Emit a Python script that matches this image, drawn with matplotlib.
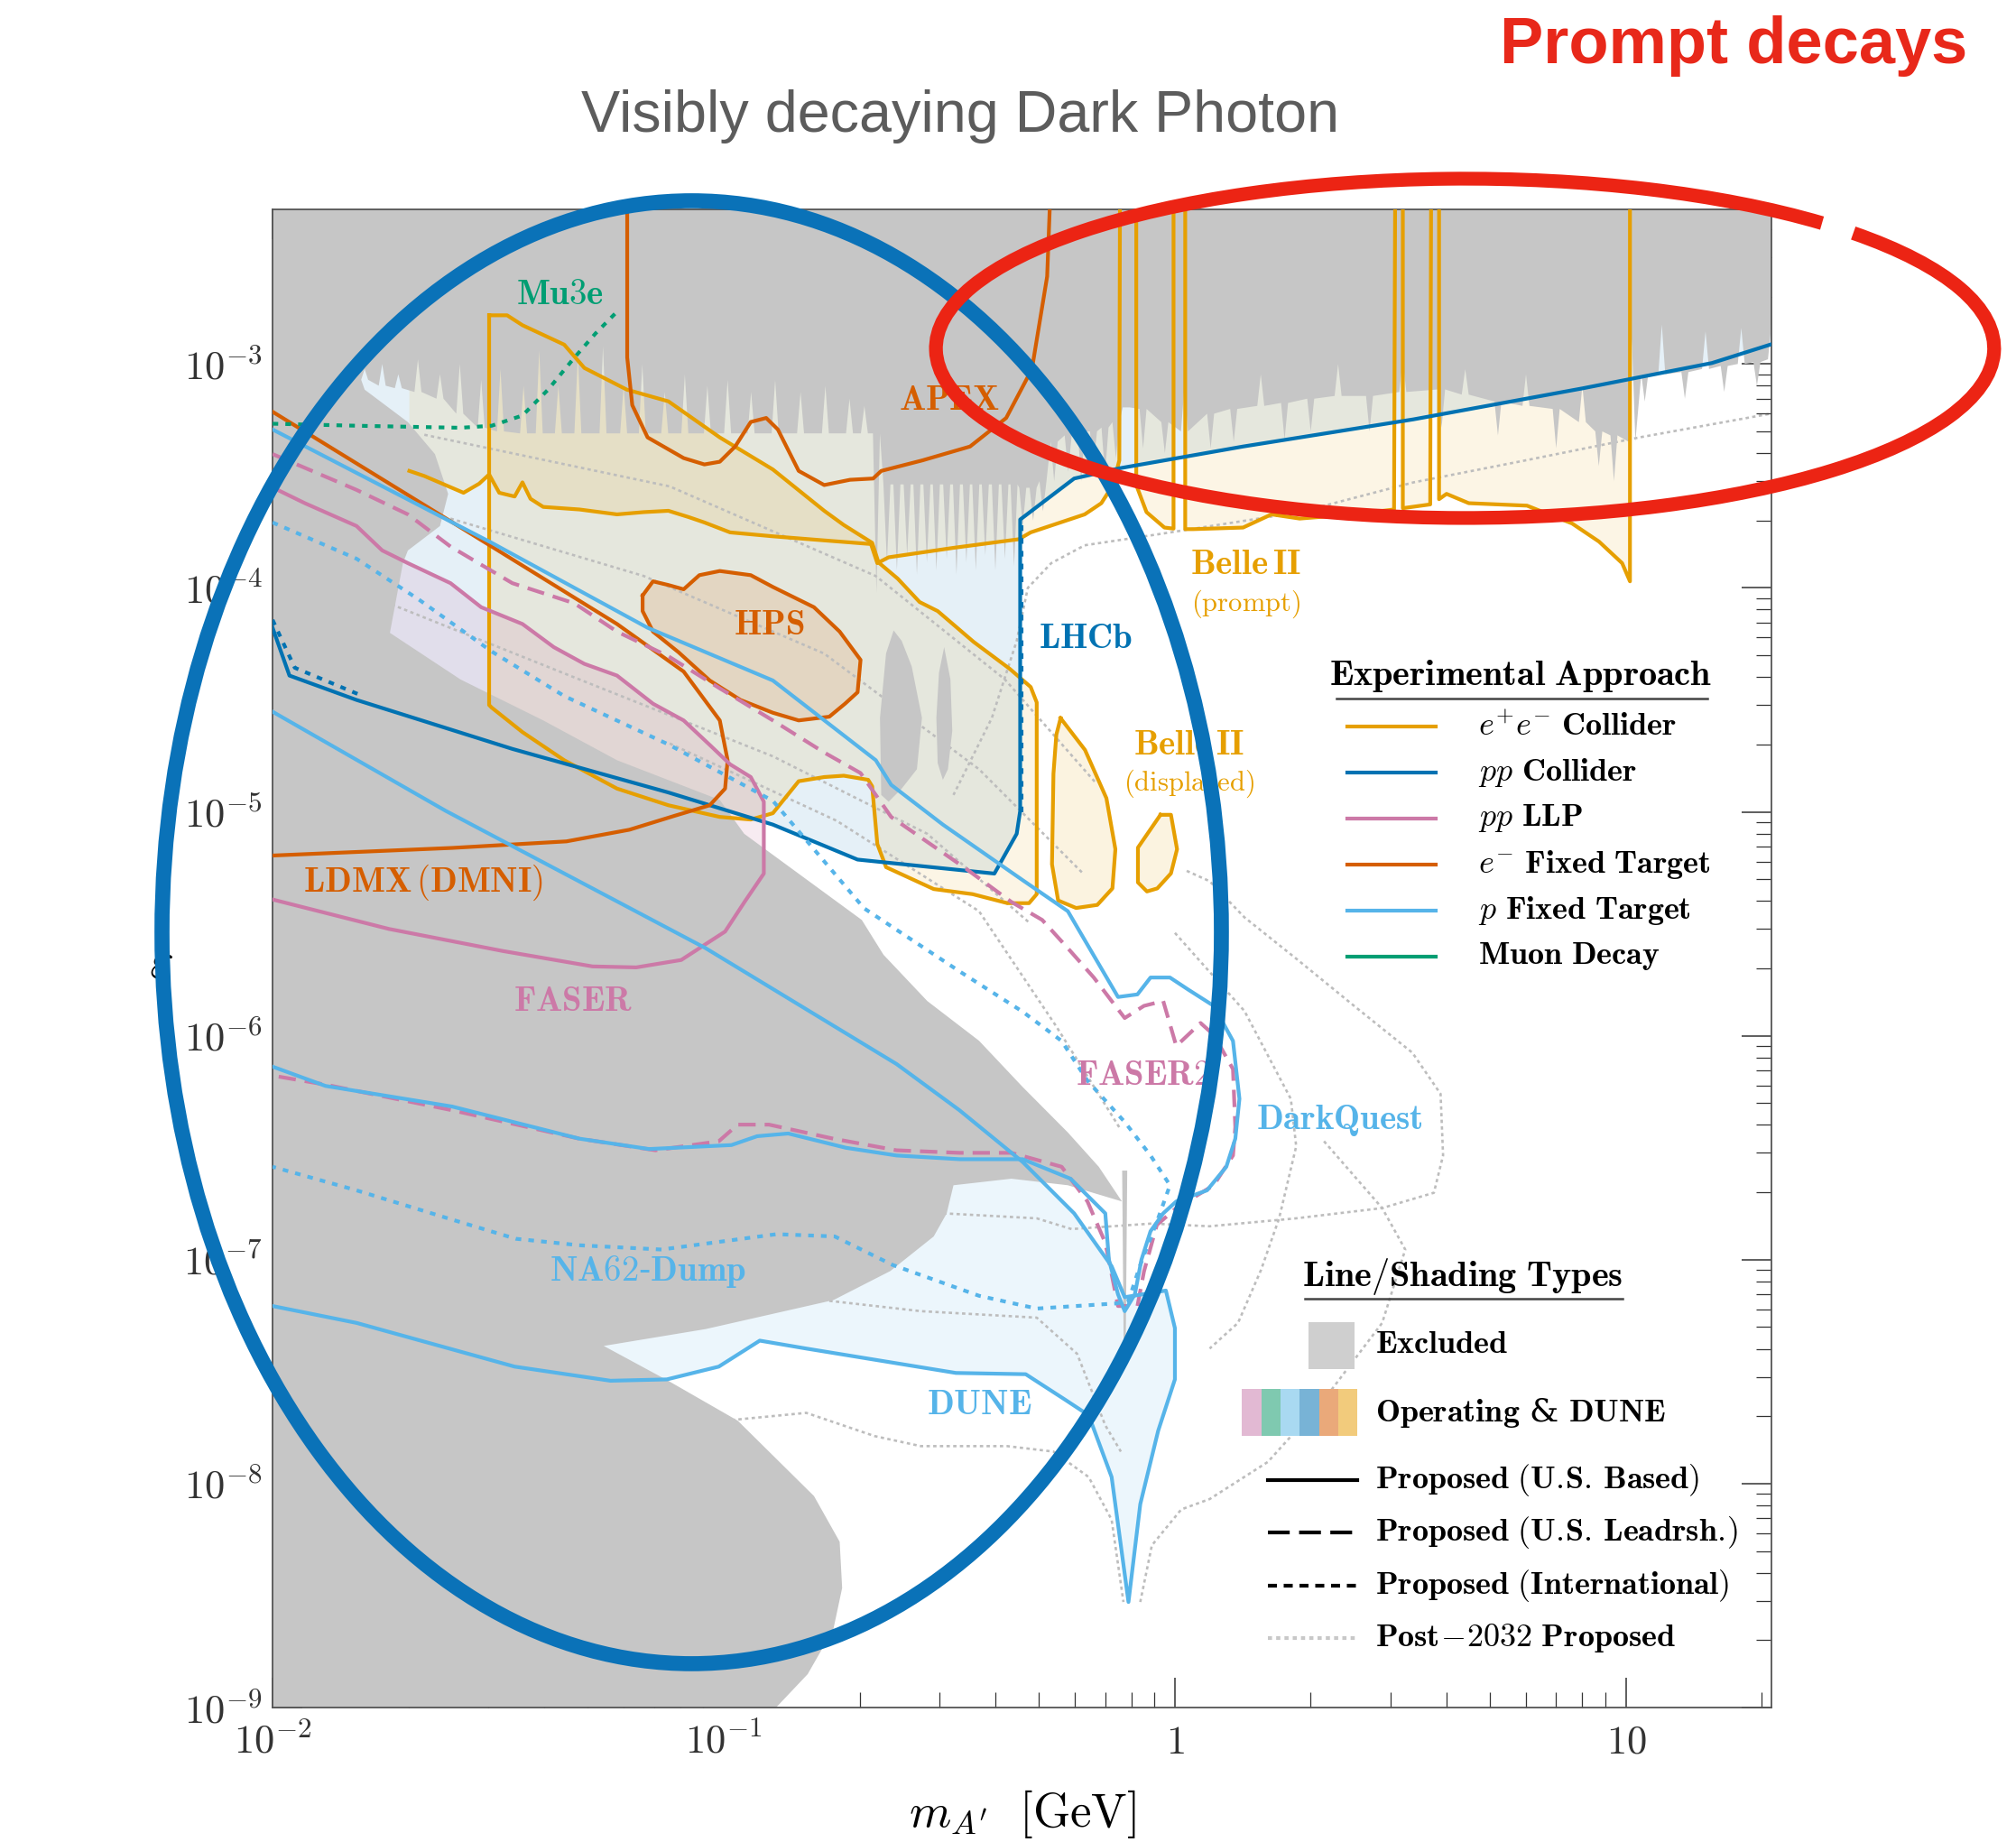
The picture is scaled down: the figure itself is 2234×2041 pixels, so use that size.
import numpy as np
import matplotlib
matplotlib.use('Agg')
from matplotlib import pyplot as plt
from matplotlib.patches import Ellipse, Arc, Rectangle
from matplotlib.ticker import LogLocator, NullFormatter

plt.rcParams['mathtext.fontset'] = 'cm'
plt.rcParams['font.family'] = 'serif'
plt.rcParams['font.serif'] = ['DejaVu Serif']

# colours of the experimental approaches
C_EE = '#E69F00'     # e+e- collider
C_PP = '#0072B2'     # pp collider
C_LLP = '#CC79A7'    # pp LLP
C_EFT = '#D55E00'    # e- fixed target
C_PFT = '#56B4E9'    # p fixed target
C_MU = '#009E73'     # muon decay
C_GRAY = '#c6c6c6'
C_POST = '#bdbdbd'

# ---------------- excluded (gray) region ----------------
# lower edge of the prompt-search band: spike centre, spike tip, local base
gray_spk_m = [0.0160, 0.0175, 0.0190, 0.0210, 0.0235, 0.0260, 0.0290, 0.0320,
              0.0360, 0.0390, 0.0430, 0.0475, 0.0540, 0.0600, 0.0660, 0.0740,
              0.0820, 0.0920, 0.1020, 0.1150, 0.1300, 0.1480, 0.1680, 0.1900, 0.2050,
              0.218, 0.230, 0.242, 0.255, 0.268, 0.282, 0.296, 0.312, 0.328, 0.345,
              0.362, 0.380, 0.400, 0.420, 0.440,
              0.46, 0.485, 0.51, 0.54, 0.58, 0.62, 0.66, 0.70, 0.74, 0.78,
              0.85, 0.95, 1.05, 1.20, 1.35, 1.55, 1.75, 2.00, 2.30, 2.70, 3.20,
              3.90, 4.40, 5.20, 6.00, 7.00, 8.00, 8.70, 9.40,
              10.3, 11.0, 12.0, 13.5, 15.0, 16.5, 18.0, 19.5, 21.0]
gray_spk_tip = [9.5e-4, 1.0e-3, 9.0e-4, 1.05e-3, 9.0e-4, 1.0e-3, 8.5e-4, 9.5e-4,
                8.0e-4, 1.15e-3, 8.0e-4, 1.1e-3, 1.2e-3, 8.0e-4, 1.0e-3, 7.5e-4,
                9.0e-4, 8.0e-4, 8.5e-4, 7.5e-4, 8.5e-4, 7.5e-4, 8.0e-4, 7.0e-4, 6.5e-4,
                9.5e-5, 1.3e-4, 1.2e-4, 1.4e-4, 1.15e-4, 1.3e-4, 1.2e-4, 1.35e-4, 1.15e-4, 1.3e-4,
                1.2e-4, 1.4e-4, 1.2e-4, 1.35e-4, 1.25e-4,
                1.9e-4, 2.0e-4, 2.2e-4, 3.0e-4, 3.3e-4, 3.0e-4, 3.5e-4, 3.2e-4, 3.8e-4, 6.4e-4,
                4.2e-4, 4.0e-4, 8.0e-4, 4.2e-4, 4.5e-4, 9.0e-4, 4.6e-4, 5.0e-4, 1.0e-3, 5.0e-4, 1.05e-3,
                5.2e-4, 9.5e-4, 4.8e-4, 9.0e-4, 4.2e-4, 8.0e-4, 3.5e-4, 3.0e-4,
                1.3e-3, 6.8e-4, 1.5e-3, 7.0e-4, 1.4e-3, 7.5e-4, 1.45e-3, 8.0e-4, 1.5e-3]
gray_spk_base = [8.5e-4, 8.0e-4, 7.8e-4, 7.5e-4, 7.0e-4, 6.0e-4, 5.2e-4, 5.0e-4,
                 4.9e-4, 4.9e-4, 4.9e-4, 4.9e-4, 4.9e-4, 4.9e-4, 4.9e-4, 4.9e-4,
                 4.9e-4, 4.9e-4, 4.9e-4, 4.9e-4, 4.9e-4, 4.9e-4, 4.9e-4, 4.9e-4, 4.9e-4,
                 4.9e-4, 2.9e-4, 2.9e-4, 2.9e-4, 2.9e-4, 2.9e-4, 2.9e-4, 2.9e-4, 2.9e-4, 2.9e-4,
                 2.9e-4, 2.9e-4, 2.9e-4, 2.9e-4, 2.9e-4,
                 2.8e-4, 2.8e-4, 3.0e-4, 4.5e-4, 4.8e-4, 5.0e-4, 5.0e-4, 5.2e-4, 5.5e-4, 6.4e-4,
                 6.3e-4, 5.5e-4, 5.0e-4, 6.0e-4, 6.3e-4, 6.5e-4, 6.7e-4, 7.0e-4, 7.2e-4, 7.2e-4, 7.5e-4,
                 7.7e-4, 7.3e-4, 6.8e-4, 6.5e-4, 6.3e-4, 5.5e-4, 5.0e-4, 4.8e-4,
                 4.5e-4, 9.0e-4, 9.0e-4, 9.2e-4, 9.5e-4, 9.8e-4, 1.0e-3, 1.02e-3, 1.05e-3]

# beam-dump boundary, from the top-left down to the bottom axis
dump_m = [0.0160, 0.01995, 0.0229, 0.0245, 0.0235, 0.01995, 0.01945, 0.0182, 0.0261,
          0.0398, 0.058, 0.098, 0.111, 0.2023, 0.226, 0.2825, 0.368, 0.46, 0.579,
          0.678, 0.763, 0.579, 0.434, 0.323, 0.312, 0.292, 0.234, 0.175, 0.0912,
          0.0542, 0.0753, 0.1074, 0.1585, 0.1807, 0.183, 0.175, 0.1535, 0.130, 0.125]
dump_e = [7.68e-4, 5.5e-4, 3.96e-4, 2.63e-4, 1.89e-4, 1.47e-4, 1.29e-4, 6.3e-5, 3.9e-5,
          2.56e-5, 1.7e-5, 1.13e-5, 7.98e-6, 3.29e-6, 2.3e-6, 1.43e-6, 9.5e-7, 5.9e-7, 3.7e-7,
          2.6e-7, 1.82e-7, 2.15e-7, 2.3e-7, 2.15e-7, 1.61e-7, 1.27e-7, 8.9e-8, 6.6e-8, 4.9e-8,
          4.12e-8, 2.88e-8, 1.91e-8, 8.8e-9, 5.5e-9, 3.42e-9, 2.24e-9, 1.41e-9, 9.9e-10, 5e-10]

blobA_m = [0.2234, 0.222, 0.229, 0.238, 0.248, 0.261, 0.275, 0.268, 0.248, 0.232]
blobA_e = [1.19e-5, 2.63e-5, 5.1e-5, 6.46e-5, 5.8e-5, 4.46e-5, 2.63e-5, 1.55e-5, 1.27e-5, 1.11e-5]
blobB_m = [0.308, 0.318, 0.321, 0.314, 0.306, 0.298, 0.296, 0.300]
blobB_e = [5.44e-5, 3.9e-5, 2.3e-5, 1.55e-5, 1.39e-5, 1.65e-5, 2.63e-5, 4.18e-5]
needle_m = [0.764, 0.784, 0.778, 0.770]
needle_e = [2.5e-7, 2.5e-7, 4.0e-8, 4.0e-8]

# ---------------- e+e- collider ----------------
b2p_m = [0.0201, 0.0217, 0.0265, 0.0287, 0.0302, 0.0318, 0.0344, 0.0358, 0.0373, 0.0398,
         0.0479, 0.058, 0.0665, 0.0754, 0.0837, 0.0906, 0.1033, 0.1285, 0.167, 0.212,
         0.219, 0.232, 0.323, 0.451, 0.479, 0.631, 0.687, 0.729, 0.753, 0.756,
         0.821, 0.821, 0.865, 0.948, 0.993, 0.993, 1.054, 1.054, 1.097, 1.416,
         1.637, 1.89, 2.48, 3.06, 3.08, 3.2, 3.2, 3.68, 3.70, 3.85,
         3.85, 4.0, 4.48, 6.03, 7.59, 8.71, 9.8, 10.2, 10.2]
b2p_e = [3.33e-4, 3.16e-4, 2.66e-4, 2.92e-4, 3.21e-4, 2.66e-4, 2.56e-4, 2.96e-4, 2.5e-4, 2.3e-4,
         2.24e-4, 2.13e-4, 2.18e-4, 2.21e-4, 2.07e-4, 1.96e-4, 1.77e-4, 1.7e-4, 1.63e-4, 1.57e-4,
         1.29e-4, 1.37e-4, 1.51e-4, 1.65e-4, 1.77e-4, 2.13e-4, 2.39e-4, 2.88e-4, 3.71e-4, 1e-2,
         1e-2, 2.88e-4, 2.18e-4, 1.86e-4, 1.84e-4, 1e-2, 1e-2, 1.83e-4, 1.83e-4, 1.86e-4,
         2.13e-4, 2.04e-4, 2.13e-4, 2.24e-4, 1e-2, 1e-2, 2.27e-4, 2.36e-4, 1e-2, 1e-2,
         2.49e-4, 2.63e-4, 2.39e-4, 2.33e-4, 1.94e-4, 1.61e-4, 1.29e-4, 1.07e-4, 1e-2]

box_m = [0.0302, 0.0331, 0.0358, 0.0443, 0.0491, 0.061, 0.0754, 0.098, 0.1285, 0.167,
         0.1845, 0.2133, 0.2203, 0.243, 0.2717, 0.298, 0.358, 0.4305, 0.479, 0.494,
         0.494, 0.475, 0.4254, 0.356, 0.292, 0.229, 0.219, 0.2133, 0.209, 0.1845,
         0.167, 0.1466, 0.1285, 0.1148, 0.098, 0.0754, 0.058, 0.0443, 0.0358, 0.0306,
         0.0302, 0.0302]
box_e = [1.65e-3, 1.65e-3, 1.49e-3, 1.22e-3, 9.6e-4, 7.68e-4, 6.81e-4, 4.7e-4, 3.38e-4, 2.21e-4,
         1.91e-4, 1.59e-4, 1.3e-4, 1.1e-4, 8.65e-5, 7.88e-5, 5.74e-5, 4.35e-5, 3.61e-5, 3.08e-5,
         4.29e-6, 3.91e-6, 3.91e-6, 4.29e-6, 4.52e-6, 5.66e-6, 7.18e-6, 1.3e-5, 1.39e-5, 1.45e-5,
         1.43e-5, 1.37e-5, 9.86e-6, 9.24e-6, 9.49e-6, 1.07e-5, 1.27e-5, 1.7e-5, 2.27e-5, 2.92e-5,
         3.0e-5, 1.65e-3]

b2d1_m = [0.558, 0.632, 0.705, 0.738, 0.727, 0.673, 0.604, 0.551, 0.534, 0.538, 0.546, 0.558]
b2d1_e = [2.62e-5, 1.89e-5, 1.15e-5, 6.81e-6, 4.55e-6, 3.84e-6, 3.72e-6, 4.02e-6, 5.83e-6, 1.48e-5, 2.21e-5, 2.62e-5]
b2d2_m = [0.929, 0.98, 1.011, 0.98, 0.914, 0.867, 0.828, 0.828, 0.929]
b2d2_e = [9.7e-6, 9.7e-6, 6.81e-6, 5.31e-6, 4.55e-6, 4.41e-6, 4.84e-6, 6.92e-6, 9.7e-6]

# ---------------- pp collider (LHCb) ----------------
lhcb_m = [0.01, 0.0109, 0.01535, 0.034, 0.0754, 0.1285, 0.198, 0.398, 0.446, 0.454,
          0.454, 0.598, 0.753, 1.416, 3.38, 8.0, 15.5, 21.4]
lhcb_e = [6.64e-5, 4.06e-5, 3.16e-5, 1.91e-5, 1.22e-5, 8.77e-6, 6.12e-6, 5.3e-6, 7.98e-6, 1.01e-5,
          2.02e-4, 3.08e-4, 3.42e-4, 4.28e-4, 5.66e-4, 7.78e-4, 1.01e-3, 1.24e-3]
lhcbd_m = [0.01, 0.0112, 0.0155]
lhcbd_e = [7.2e-5, 4.4e-5, 3.35e-5]
lhcbv_m = [0.457, 0.457]
lhcbv_e = [1.0e-5, 2.0e-4]

# ---------------- e- fixed target ----------------
apex_m = [0.0611, 0.0611, 0.0627, 0.0678, 0.0815, 0.0906, 0.098, 0.106, 0.1148, 0.1242, 0.1318,
          0.1466, 0.167, 0.1905, 0.2144, 0.2234, 0.2754, 0.3515, 0.4227, 0.482, 0.521, 0.535]
apex_e = [1e-2, 1.07e-3, 6.55e-4, 4.7e-4, 3.8e-4, 3.56e-4, 3.66e-4, 4.28e-4, 5.51e-4, 5.74e-4, 5.1e-4,
          3.33e-4, 2.88e-4, 3.04e-4, 3.08e-4, 3.33e-4, 3.71e-4, 4.28e-4, 5.74e-4, 9.48e-4, 2.46e-3, 1e-2]
hps_m = [0.0661, 0.0697, 0.0754, 0.0815, 0.0883, 0.098, 0.1148, 0.1285, 0.1585, 0.1807, 0.201,
         0.198, 0.1857, 0.1714, 0.1466, 0.1285, 0.1089, 0.0931, 0.0794, 0.0697, 0.0661, 0.0661]
hps_e = [9.25e-5, 1.07e-4, 1.03e-4, 9.86e-5, 1.14e-4, 1.19e-4, 1.14e-4, 1.01e-4, 8.2e-5, 6.38e-5, 4.77e-5,
         3.42e-5, 3.04e-5, 2.66e-5, 2.56e-5, 2.77e-5, 3.16e-5, 3.86e-5, 5.16e-5, 6.38e-5, 7.88e-5, 9.25e-5]
ldmx_m = [0.01, 0.0306, 0.058, 0.0815, 0.098, 0.102, 0.1007, 0.0931, 0.0778, 0.0618, 0.0448, 0.025, 0.01]
ldmx_e = [6.12e-4, 1.53e-4, 6.9e-5, 4.23e-5, 2.56e-5, 1.7e-5, 1.27e-5, 1.07e-5, 9.6e-6, 8.32e-6,
          7.38e-6, 6.9e-6, 6.38e-6]

# ---------------- pp LLP ----------------
faser_m = [0.01, 0.01179, 0.01535, 0.0175, 0.01995, 0.0248, 0.029, 0.0358, 0.042, 0.0491, 0.058,
           0.0697, 0.0815, 0.0931, 0.1033, 0.1148, 0.1227, 0.1227, 0.1112, 0.1007, 0.0805, 0.064,
           0.0512, 0.0324, 0.0181, 0.01]
faser_e = [2.81e-4, 2.39e-4, 1.89e-4, 1.47e-4, 1.29e-4, 1.05e-4, 8.2e-5, 6.9e-5, 5.44e-5, 4.58e-5, 4.06e-5,
           3.04e-5, 2.56e-5, 1.99e-5, 1.63e-5, 1.43e-5, 1.11e-5, 5.3e-6, 3.96e-6, 2.92e-6, 2.18e-6, 2.02e-6,
           2.04e-6, 2.39e-6, 3.0e-6, 4.06e-6]
f2_m = [0.01, 0.01535, 0.01995, 0.0248, 0.034, 0.0467, 0.058, 0.0754, 0.098, 0.1285, 0.167, 0.201,
        0.235, 0.344, 0.434, 0.508, 0.579, 0.661, 0.724, 0.774, 0.854, 0.942, 1.007, 1.14, 1.219,
        1.345, 1.361, 1.345, 1.219, 1.007, 0.912, 0.854, 0.826, 0.748, 0.701, 0.64, 0.561, 0.434,
        0.333, 0.2415, 0.175, 0.126, 0.1074, 0.0975, 0.0706, 0.0479, 0.025, 0.0131, 0.01]
f2_e = [3.96e-4, 2.74e-4, 2.13e-4, 1.53e-4, 1.05e-4, 8.53e-5, 6.38e-5, 4.95e-5, 3.56e-5, 2.56e-5,
        1.84e-5, 1.49e-5, 9.49e-6, 5.58e-6, 3.96e-6, 3.29e-6, 2.46e-6, 1.82e-6, 1.43e-6, 1.2e-6,
        1.36e-6, 1.43e-6, 9.0e-7, 1.14e-6, 1.01e-6, 7.1e-7, 3.91e-7, 2.92e-7, 2.15e-7, 1.7e-7,
        1.43e-7, 8.87e-8, 6.21e-8, 6.21e-8, 1.19e-7, 1.82e-7, 2.6e-7, 3.0e-7, 3.0e-7, 3.08e-7,
        3.47e-7, 4.01e-7, 4.01e-7, 3.38e-7, 3.08e-7, 3.47e-7, 4.65e-7, 6.05e-7, 6.64e-7]

# ---------------- p fixed target ----------------
dq_m = [0.01, 0.0306, 0.0678, 0.1285, 0.2173, 0.235, 0.306, 0.46, 0.579, 0.748, 0.826, 0.883,
        0.975, 1.069, 1.219, 1.345, 1.39, 1.361, 1.3, 1.178, 1.007, 0.942, 0.883, 0.843, 0.815,
        0.774, 0.748, 0.714, 0.701, 0.587, 0.46, 0.333, 0.2415, 0.1866, 0.139, 0.1186, 0.104,
        0.0683, 0.0479, 0.025, 0.0131, 0.01]
dq_e = [5.1e-4, 1.59e-4, 6.64e-5, 3.86e-5, 1.7e-5, 1.32e-5, 8.77e-6, 4.95e-6, 3.6e-6, 1.49e-6,
        1.53e-6, 1.82e-6, 1.82e-6, 1.61e-6, 1.36e-6, 9.48e-7, 5.23e-7, 3.47e-7, 2.6e-7, 2.04e-7,
        1.82e-7, 1.61e-7, 1.34e-7, 1.0e-7, 7.0e-8, 5.89e-8, 7.0e-8, 1.0e-7, 1.61e-7, 2.3e-7,
        2.81e-7, 2.81e-7, 2.92e-7, 3.16e-7, 3.66e-7, 3.56e-7, 3.25e-7, 3.12e-7, 3.47e-7, 4.83e-7,
        5.97e-7, 7.28e-7]
dune_m = [0.01, 0.0242, 0.0912, 0.2415, 0.333, 0.46, 0.598, 0.724, 0.774, 0.955, 1.0, 1.0, 0.918,
          0.838, 0.789, 0.724, 0.644, 0.571, 0.467, 0.327, 0.1524, 0.1202, 0.0975, 0.0748, 0.0561,
          0.0344, 0.01535, 0.01]
dune_e = [2.8e-5, 1.01e-5, 2.46e-6, 7.48e-7, 4.65e-7, 2.73e-7, 1.61e-7, 9.35e-8, 6.8e-8, 7.28e-8,
          4.95e-8, 2.92e-8, 1.72e-8, 8.1e-9, 2.96e-9, 1.07e-8, 2.02e-8, 2.37e-8, 3.08e-8, 3.12e-8,
          4.01e-8, 4.35e-8, 3.33e-8, 2.92e-8, 2.88e-8, 3.33e-8, 5.22e-8, 6.21e-8]
na62_m = [0.01, 0.01535, 0.0211, 0.0306, 0.0443, 0.0754, 0.1285, 0.2046, 0.333, 0.46, 0.561, 0.64,
          0.774, 0.883, 0.975, 0.918, 0.838, 0.789, 0.743, 0.494, 0.368, 0.2366, 0.1762, 0.131,
          0.0728, 0.0478, 0.0346, 0.025, 0.01535, 0.01]
na62_e = [1.96e-4, 1.35e-4, 8.87e-5, 5.2e-5, 3.29e-5, 2.0e-5, 1.12e-5, 3.71e-6, 1.94e-6, 1.28e-6,
          9.48e-7, 6.3e-7, 4.12e-7, 2.92e-7, 2.15e-7, 1.53e-7, 9.48e-8, 6.55e-8, 6.38e-8, 6.05e-8,
          6.9e-8, 9.48e-8, 1.27e-7, 1.3e-7, 1.11e-7, 1.16e-7, 1.24e-7, 1.51e-7, 2.04e-7, 2.6e-7]

# ---------------- muon decay ----------------
mu3e_m = [0.01, 0.01535, 0.0261, 0.0306, 0.0358, 0.0408, 0.0467, 0.052, 0.0578]
mu3e_e = [5.41e-4, 5.3e-4, 5.19e-4, 5.3e-4, 5.89e-4, 7.68e-4, 1.07e-3, 1.37e-3, 1.7e-3]

# ---------------- post-2032 proposals (light gray dotted) ----------------
post1_m = [21.4, 10.7, 5.98, 3.38, 1.89, 0.925, 0.631, 0.532, 0.472, 0.446, 0.393, 0.323]
post1_e = [6.05e-4, 4.7e-4, 3.71e-4, 2.96e-4, 2.18e-4, 1.74e-4, 1.55e-4, 1.29e-4, 1.0e-4, 5.8e-5, 2.63e-5, 1.19e-5]
post2_m = [1.062, 1.194, 1.426, 1.857, 2.495, 3.36, 3.88, 3.93, 3.75, 2.88, 1.857, 1.194, 0.889, 0.59, 0.494, 0.308]
post2_e = [5.45e-6, 4.9e-6, 3.38e-6, 2.21e-6, 1.36e-6, 8.4e-7, 5.5e-7, 2.92e-7, 1.99e-7, 1.7e-7,
           1.53e-7, 1.41e-7, 1.45e-7, 1.37e-7, 1.53e-7, 1.61e-7]
post3_m = [1.0, 1.426, 1.807, 1.857, 1.702, 1.552, 1.38, 1.194]
post3_e = [2.88e-6, 1.29e-6, 5.22e-7, 3.21e-7, 1.53e-7, 9.0e-8, 5.22e-8, 4.01e-8]
post4_m = [2.14, 2.88, 3.24, 2.88, 2.14, 1.607, 1.194, 1.033, 0.889, 0.838]
post4_e = [3.38e-7, 1.7e-7, 1.11e-7, 5.22e-8, 2.37e-8, 1.25e-8, 8.53e-9, 7.67e-9, 5.3e-9, 2.96e-9]
post5_m = [0.1007, 0.1524, 0.216, 0.2735, 0.425, 0.538, 0.644, 0.724, 0.769]
post5_e = [1.91e-8, 2.07e-8, 1.63e-8, 1.47e-8, 1.47e-8, 1.39e-8, 1.07e-8, 6.9e-9, 2.96e-9]
post6_m = [0.1714, 0.2735, 0.494, 0.607, 0.701, 0.759]
post6_e = [6.55e-8, 5.89e-8, 5.51e-8, 3.8e-8, 1.82e-8, 1.39e-8]
post7_m = [0.0217, 0.0759, 0.2173, 0.42, 0.665]
post7_e = [4.83e-4, 2.84e-4, 1.13e-4, 3.9e-5, 1.36e-5]
post8_m = [0.0248, 0.0665, 0.167, 0.368, 0.622]
post8_e = [2.04e-4, 1.13e-4, 5.09e-5, 1.55e-5, 5.37e-6]
post9_m = [0.0178, 0.0479, 0.1285, 0.2825, 0.479]
post9_e = [8.65e-5, 3.9e-5, 1.77e-5, 7.98e-6, 3.16e-6]
post10_m = [0.0759, 0.178, 0.368, 0.546, 0.759]
post10_e = [2.02e-5, 9.12e-6, 3.6e-6, 1.1e-6, 3.8e-7]

# experiment labels: text, mass, epsilon, colour, size
exp_labels = [
    (r'$\mathbf{Mu3e}$', 0.0434, 2.04e-3, C_MU, 28),
    (r'$\mathbf{APEX}$', 0.316, 6.9e-4, C_EFT, 28),
    (r'$\mathbf{HPS}$', 0.126, 6.8e-5, C_EFT, 28),
    (r'$\mathbf{Belle\,II}$', 1.436, 1.27e-4, C_EE, 28),
    (r'$\mathrm{(prompt)}$', 1.436, 8.5e-5, C_EE, 22),
    (r'$\mathbf{LHCb}$', 0.635, 5.97e-5, C_PP, 28),
    (r'$\mathbf{Belle\,II}$', 1.074, 1.99e-5, C_EE, 28),
    (r'$\mathrm{(displaced)}$', 1.074, 1.34e-5, C_EE, 22),
    (r'$\mathbf{LDMX\,(DMNI)}$', 0.0216, 4.83e-6, C_EFT, 28),
    (r'$\mathbf{FASER}$', 0.0463, 1.43e-6, C_LLP, 28),
    (r'$\mathbf{FASER2}$', 0.849, 6.64e-7, C_LLP, 28),
    (r'$\mathbf{DarkQuest}$', 2.32, 4.18e-7, C_PFT, 28),
    (r'$\mathbf{NA62}$-$\mathbf{Dump}$', 0.0678, 8.87e-8, C_PFT, 28),
    (r'$\mathbf{DUNE}$', 0.368, 2.24e-8, C_PFT, 28),
]

approach_names = [r'$e^{+}e^{-}\ \mathbf{Collider}$', r'$pp\ \mathbf{Collider}$', r'$pp\ \mathbf{LLP}$',
                  r'$e^{-}\ \mathbf{Fixed\ Target}$', r'$p\ \mathbf{Fixed\ Target}$', r'$\mathbf{Muon\ Decay}$']
approach_colors = [C_EE, C_PP, C_LLP, C_EFT, C_PFT, C_MU]
strip_colors = ['#e2b9d3', '#7fc9b0', '#a9d9f1', '#78b3d6', '#eaa97a', '#f2cb7c']
style_names = [r'$\mathbf{Proposed\ (U.\!S.\,Based)}$', r'$\mathbf{Proposed\ (U.\!S.\,Leadrsh.\!)}$',
               r'$\mathbf{Proposed\ (International)}$', r'$\mathbf{Post}\!-\!\mathbf{2032\ Proposed}$']


def spiky(cen, tip, base, w=1.018):
    m, e = [], []
    for c, t, b in zip(cen, tip, base):
        m += [c / w, c, c * w]
        e += [b, t, b]
    return m, e


fig = plt.figure(figsize=(22.34, 20.41), dpi=100)
ax = fig.add_axes([0.1352, 0.0730, 0.7435, 0.8133])
ax.set_xscale('log')
ax.set_yscale('log')

LW = 3.0
DOT = (0, (1.5, 1.9))
DASH = (0, (4.6, 2.4))

# shaded (operating) regions
ax.fill(lhcb_m + [30, 30, 0.005, 0.005], lhcb_e + [lhcb_e[-1], 1e-2, 1e-2, lhcb_e[0]],
        color=C_PP, alpha=0.10, lw=0, zorder=1)
ax.fill(b2p_m + [b2p_m[0]], b2p_e + [1e-2], color=C_EE, alpha=0.10, lw=0, zorder=1)
ax.fill(box_m, box_e, color=C_EE, alpha=0.10, lw=0, zorder=1)
ax.fill(b2d1_m, b2d1_e, color=C_EE, alpha=0.12, lw=0, zorder=1)
ax.fill(b2d2_m, b2d2_e, color=C_EE, alpha=0.12, lw=0, zorder=1)
ax.fill(hps_m, hps_e, color=C_EFT, alpha=0.12, lw=0, zorder=1)
ax.fill(faser_m, faser_e, color=C_LLP, alpha=0.15, lw=0, zorder=1)
ax.fill(dune_m, dune_e, color=C_PFT, alpha=0.11, lw=0, zorder=1)

# post-2032
for pm, pe in [(post1_m, post1_e), (post2_m, post2_e), (post3_m, post3_e), (post4_m, post4_e),
               (post5_m, post5_e), (post6_m, post6_e), (post7_m, post7_e), (post8_m, post8_e),
               (post9_m, post9_e), (post10_m, post10_e)]:
    ax.plot(pm, pe, color=C_POST, lw=1.9, ls=(0, (1.4, 1.4)), zorder=1.5)

# excluded
edge_m, edge_e = spiky(gray_spk_m, gray_spk_tip, gray_spk_base)
poly_m = [0.005, 40, 40] + edge_m[::-1] + dump_m + [0.005]
poly_e = [1e-2, 1e-2, gray_spk_base[-1]] + edge_e[::-1] + dump_e + [5e-10]
ax.fill(poly_m, poly_e, color=C_GRAY, lw=0, zorder=2)
ax.fill(blobA_m, blobA_e, color=C_GRAY, lw=0, zorder=2)
ax.fill(blobB_m, blobB_e, color=C_GRAY, lw=0, zorder=2)
ax.fill(needle_m, needle_e, color=C_GRAY, lw=0, zorder=2)

# curves
ax.plot(b2p_m, b2p_e, color=C_EE, lw=LW, zorder=3)
ax.plot(box_m, box_e, color=C_EE, lw=LW, zorder=3)
ax.plot(b2d1_m, b2d1_e, color=C_EE, lw=LW, zorder=3)
ax.plot(b2d2_m, b2d2_e, color=C_EE, lw=LW, zorder=3)
ax.plot(lhcb_m, lhcb_e, color=C_PP, lw=LW, zorder=3)
ax.plot(lhcbd_m, lhcbd_e, color=C_PP, lw=LW, ls=DOT, zorder=3)
ax.plot(lhcbv_m, lhcbv_e, color=C_PP, lw=LW, ls=DOT, zorder=3)
ax.plot(apex_m, apex_e, color=C_EFT, lw=LW, zorder=3)
ax.plot(hps_m, hps_e, color=C_EFT, lw=LW, zorder=3)
ax.plot(ldmx_m, ldmx_e, color=C_EFT, lw=LW, zorder=3)
ax.plot(faser_m, faser_e, color=C_LLP, lw=LW, zorder=3)
ax.plot(f2_m, f2_e, color=C_LLP, lw=LW, ls=DASH, zorder=3)
ax.plot(dq_m, dq_e, color=C_PFT, lw=LW, zorder=3)
ax.plot(dune_m, dune_e, color=C_PFT, lw=LW, zorder=3)
ax.plot(na62_m, na62_e, color=C_PFT, lw=LW, ls=DOT, zorder=3)
ax.plot(mu3e_m, mu3e_e, color=C_MU, lw=LW, ls=DOT, zorder=3)

for txt, m, e, col, fs in exp_labels:
    ax.text(m, e, txt, color=col, fontsize=fs, ha='center', va='center', zorder=4)

ax.set_xlim(0.01, 21)
ax.set_ylim(1e-9, 4.9e-3)
ax.set_xticks([0.01, 0.1, 1, 10])
ax.set_xticklabels([r'$10^{-2}$', r'$10^{-1}$', r'$1$', r'$10$'])
ax.set_yticks([1e-9, 1e-8, 1e-7, 1e-6, 1e-5, 1e-4, 1e-3])
ax.set_yticklabels([r'$10^{-9}$', r'$10^{-8}$', r'$10^{-7}$', r'$10^{-6}$',
                    r'$10^{-5}$', r'$10^{-4}$', r'$10^{-3}$'])
ax.xaxis.set_minor_locator(LogLocator(base=10, subs=np.arange(2, 10)))
ax.yaxis.set_minor_locator(LogLocator(base=10, subs=np.arange(2, 10)))
ax.xaxis.set_minor_formatter(NullFormatter())
ax.yaxis.set_minor_formatter(NullFormatter())
ax.tick_params(which='both', direction='in', top=True, right=True, colors='#333333')
ax.tick_params(which='major', length=24, width=1.1, labelsize=32)
ax.tick_params(which='minor', length=12, width=0.9)
ax.tick_params(axis='x', which='major', pad=12)
ax.tick_params(axis='y', which='major', pad=8)
for sp in ax.spines.values():
    sp.set_color('#555555')
    sp.set_linewidth(1.3)

# legend 1
T = ax.transAxes
ax.text(0.8328, 0.6884, r'$\mathbf{Experimental\ Approach}$', transform=T, fontsize=29,
        ha='center', va='center', zorder=5)
ax.plot([0.7101, 0.9571], [0.6738, 0.6738], transform=T, color='#444444', lw=1.8, clip_on=False, zorder=5)
for i, (nm, col) in enumerate(zip(approach_names, approach_colors)):
    y = 0.6549 - i * 0.0307
    ax.plot([0.717, 0.7762], [y, y], transform=T, color=col, lw=LW, clip_on=False, zorder=5)
    ax.text(0.8045, y, nm, transform=T, fontsize=26, ha='left', va='center', zorder=5)

# legend 2
ax.text(0.7942, 0.2876, r'$\mathbf{Line/Shading\ Types}$', transform=T, fontsize=29,
        ha='center', va='center', zorder=5)
ax.plot([0.6887, 0.9005], [0.2730, 0.2730], transform=T, color='#444444', lw=1.8, clip_on=False, zorder=5)
ax.add_patch(Rectangle((0.6913, 0.2258), 0.0308, 0.0317, transform=T, color='#cfcfcf', lw=0, zorder=5))
ax.text(0.7358, 0.2429, r'$\mathbf{Excluded}$', transform=T, fontsize=26, ha='left', va='center', zorder=5)
sw = (0.7238 - 0.6467) / len(strip_colors)
for i, c in enumerate(strip_colors):
    ax.add_patch(Rectangle((0.6467 + i * sw, 0.1811), sw, 0.0318, transform=T, color=c, lw=0, zorder=5))
ax.text(0.7358, 0.1966, r'$\mathbf{Operating}$ & $\mathbf{DUNE}$', transform=T, fontsize=26,
        ha='left', va='center', zorder=5)
style_ls = ['-', (0, (5.8, 2.5)), (0, (2.4, 1.8)), (0, (1.1, 1.1))]
style_col = ['black', 'black', 'black', '#c8c8c8']
for i, (nm, ls, col) in enumerate(zip(style_names, style_ls, style_col)):
    y = 0.1519 - i * 0.0352
    ax.plot([0.6638, 0.7238], [y, y], transform=T, color=col, lw=LW, ls=ls, clip_on=False, zorder=5)
    ax.text(0.7358, y, nm, transform=T, fontsize=26, ha='left', va='center', zorder=5)

# axis labels and titles
fig.text(0.507, 0.0150, r"$m_{A^{\prime}}\ \ [\mathrm{GeV}]$", fontsize=38, ha='center', va='center')
fig.text(0.0797, 0.4765, r'$\varepsilon$', fontsize=42, ha='center', va='center')
fig.text(0.4764, 0.937, 'Visibly decaying Dark Photon', family='Liberation Sans', fontsize=46.5,
         color='#5c5c5c', ha='center', va='center')
fig.text(0.976, 0.975, 'Prompt decays', family='Liberation Sans', weight='bold', fontsize=52,
         color='#e8281a', ha='right', va='center')

# annotation ellipses
fig.add_artist(Ellipse((0.3431, 0.4939), 0.5255, 0.7942, transform=fig.transFigure,
                       fill=False, ec='#0a72b8', lw=12, zorder=10))
fig.add_artist(Arc((0.7267, 0.8109), 0.5249, 0.1842, theta1=21, theta2=378, transform=fig.transFigure,
                   ec='#ec2414', lw=11, zorder=10))

fig.savefig('out.png', dpi=100)
